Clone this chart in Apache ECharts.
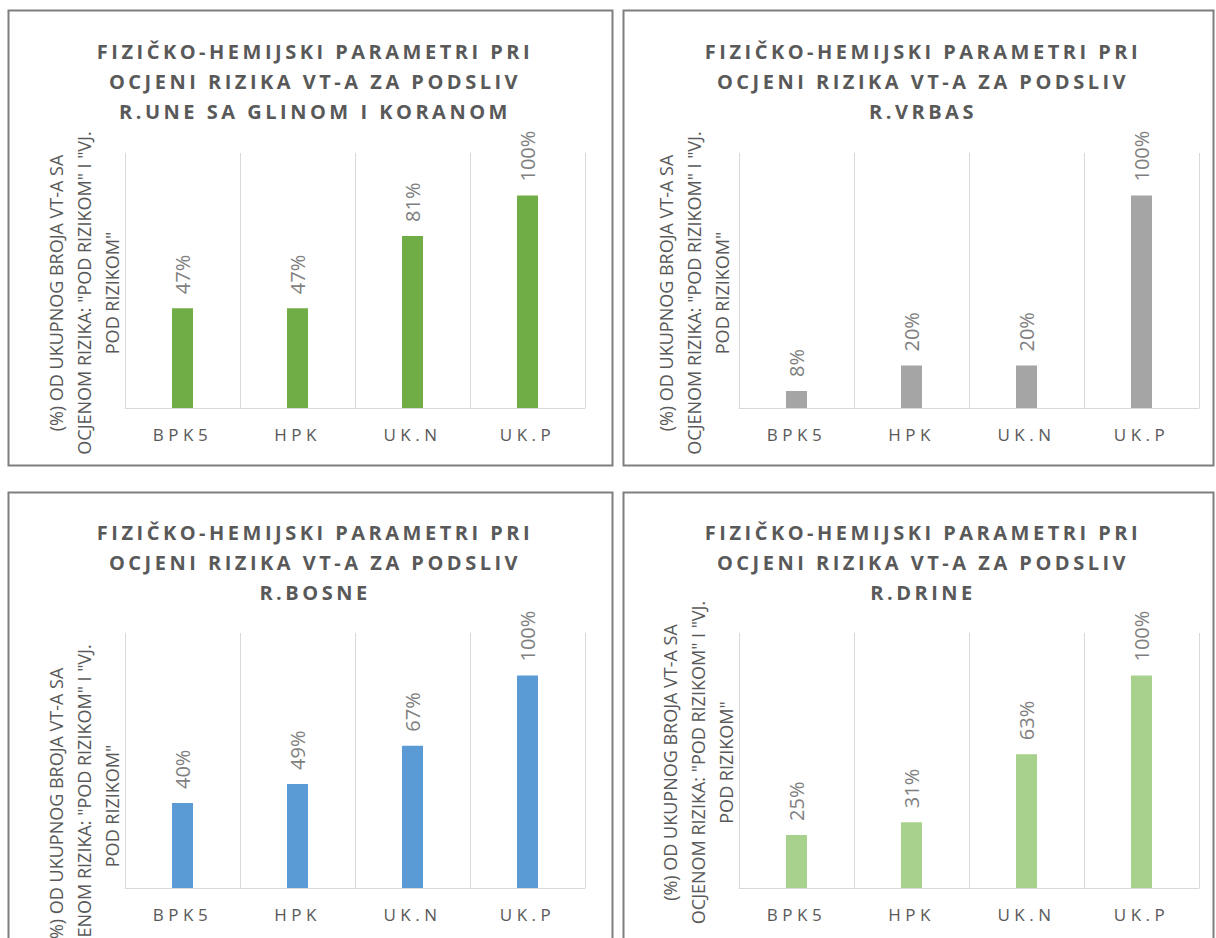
<!DOCTYPE html>
<html>
<head>
<meta charset="utf-8">
<script src="https://cdn.jsdelivr.net/npm/echarts@6/dist/echarts.min.js"></script>
<style>
html,body{margin:0;padding:0;background:#ffffff;}
#chart{width:1216px;height:938px;}
</style>
</head>
<body>
<div id="chart"></div>
<script>
// ---- data ----
const categories = ['BPK5', 'HPK', 'UK.N', 'UK.P'];
const valuesUna = [47, 47, 81, 100];
const valuesVrbas = [8, 20, 20, 100];
const valuesBosna = [40, 49, 67, 100];
const valuesDrina = [25, 31, 63, 100];
const titleUna = 'FIZIČKO-HEMIJSKI PARAMETRI PRI\nOCJENI RIZIKA VT-A ZA PODSLIV\nR.UNE SA GLINOM I KORANOM';
const titleVrbas = 'FIZIČKO-HEMIJSKI PARAMETRI PRI\nOCJENI RIZIKA VT-A ZA PODSLIV\nR.VRBAS';
const titleBosna = 'FIZIČKO-HEMIJSKI PARAMETRI PRI\nOCJENI RIZIKA VT-A ZA PODSLIV\nR.BOSNE';
const titleDrina = 'FIZIČKO-HEMIJSKI PARAMETRI PRI\nOCJENI RIZIKA VT-A ZA PODSLIV\nR.DRINE';
const axisTitle = '(%) OD UKUPNOG BROJA VT-A SA\nOCJENOM RIZIKA: "POD RIZIKOM" I "VJ.\nPOD RIZIKOM"';

// ---- layout / style ----
const FONT = '"Open Sans", sans-serif';
const panels = [
  { values: valuesUna,   title: titleUna,   color: '#70AD47', box: [8, 10, 604, 455],  grid: [125, 153], titleY: 31,  nameGap: -1, nameShift: 25 },
  { values: valuesVrbas, title: titleVrbas, color: '#A5A5A5', box: [623, 10, 590, 455], grid: [739, 153], titleY: 31,  nameGap: 3,  nameShift: 25 },
  { values: valuesBosna, title: titleBosna, color: '#5B9BD5', box: [8, 492, 604, 500], grid: [125, 633], titleY: 512, nameGap: -1, nameShift: 91 },
  { values: valuesDrina, title: titleDrina, color: '#A9D18E', box: [623, 492, 590, 500], grid: [739, 633], titleY: 512, nameGap: -1, nameShift: 4 }
];
const GW = 460, GH = 255;

const option = {
  animation: false,
  backgroundColor: '#ffffff',
  title: panels.map(p => ({
    text: p.title,
    left: p.box[0] + p.box[2] / 2,
    top: p.titleY,
    textAlign: 'center',
    textStyle: { fontFamily: FONT, fontSize: 20, fontWeight: 'bold', color: '#595959', lineHeight: 30 }
  })),
  grid: panels.map(p => ({ left: p.grid[0], top: p.grid[1], width: GW, height: GH, containLabel: false, outerBoundsMode: 'none' })),
  xAxis: panels.map((p, i) => ({
    type: 'category',
    gridIndex: i,
    data: categories,
    axisLine: { lineStyle: { color: '#d9d9d9', width: 1 } },
    axisTick: { show: false },
    axisLabel: { color: '#595959', fontFamily: FONT, fontSize: 17, margin: 18 },
    splitLine: { show: true, lineStyle: { color: '#d9d9d9', width: 1 } }
  })),
  yAxis: panels.map((p, i) => ({
    type: 'value',
    gridIndex: i,
    min: 0,
    max: 120,
    interval: 20,
    axisLine: { show: false },
    axisTick: { show: false },
    axisLabel: { show: false },
    splitLine: { show: false },
    name: axisTitle,
    nameLocation: 'middle',
    nameRotate: 90,
    nameGap: p.nameGap,
    nameTextStyle: { fontFamily: FONT, fontSize: 18, color: '#595959', lineHeight: 28, padding: [0, p.nameShift, 0, 0] }
  })),
  series: panels.map((p, i) => ({
    type: 'bar',
    xAxisIndex: i,
    yAxisIndex: i,
    data: p.values,
    barWidth: 21,
    itemStyle: { color: p.color },
    label: {
      show: true,
      position: 'top',
      distance: 14,
      rotate: 90,
      align: 'left',
      verticalAlign: 'middle',
      formatter: '{c}%',
      color: '#7F7F7F',
      fontFamily: FONT,
      fontSize: 20
    }
  })),
  graphic: panels.map(p => ({
    type: 'rect',
    silent: true,
    z: -10,
    shape: { x: p.box[0] + 0.5, y: p.box[1] + 0.5, width: p.box[2], height: p.box[3] },
    style: { fill: 'none', stroke: '#7F7F7F', lineWidth: 2 }
  }))
};

const chart = echarts.init(document.getElementById('chart'), null, { renderer: 'svg' });
chart.setOption(option);

const titleLines = [];
[titleUna, titleVrbas, titleBosna, titleDrina].forEach(t => t.split('\n').forEach(l => titleLines.push(l)));
function applySpacing() {
  document.querySelectorAll('#chart svg text').forEach(t => {
    const s = t.textContent;
    if (titleLines.indexOf(s) >= 0) t.style.letterSpacing = '3.5px';
    else if (categories.indexOf(s) >= 0) t.style.letterSpacing = '4.5px';
  });
}
chart.on('finished', applySpacing);
applySpacing();
</script>
</body>
</html>
